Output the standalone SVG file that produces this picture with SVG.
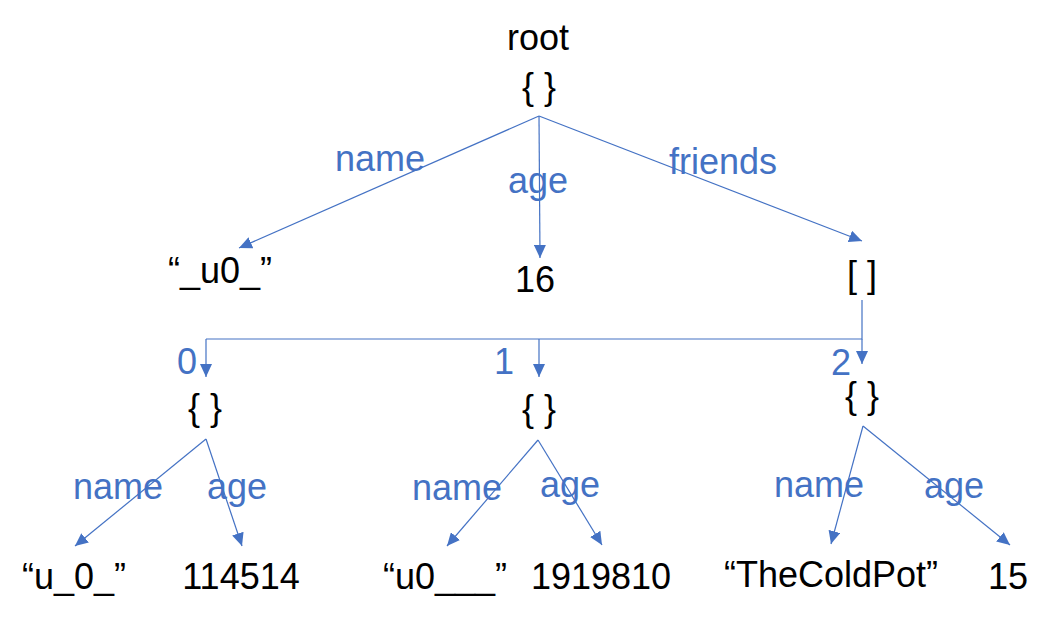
<svg xmlns="http://www.w3.org/2000/svg" width="1051" height="620" viewBox="0 0 1051 620">
<style>
text{font-family:"Liberation Sans",Arial,sans-serif;font-size:36px;text-anchor:middle}
.v{fill:#000}
.k{fill:#4472C4}
.e{stroke:#4472C4;stroke-width:1.2;fill:none;marker-end:url(#ah)}
.l{stroke:#4472C4;stroke-width:1.2;fill:none}
</style>
<defs>
<marker id="ah" markerUnits="userSpaceOnUse" markerWidth="14" markerHeight="12" refX="13" refY="6" orient="auto">
<path d="M0,0 L13,6 L0,12 Z" fill="#4472C4"/>
</marker>
</defs>
<rect width="1051" height="620" fill="#fff"/>
<g id="connectors">
<line class="e" x1="539" y1="116" x2="239" y2="248"/>
<line class="e" x1="539" y1="116" x2="540" y2="258"/>
<line class="e" x1="539" y1="116" x2="862" y2="241"/>
<polyline class="l" points="862,300 862,339 206,339"/>
<line class="e" x1="206" y1="339" x2="206" y2="377"/>
<line class="e" x1="539" y1="339" x2="539" y2="377"/>
<line class="e" x1="862" y1="339" x2="862" y2="364"/>
<line class="e" x1="206" y1="439" x2="75" y2="546"/>
<line class="e" x1="206" y1="439" x2="242" y2="546"/>
<line class="e" x1="538" y1="440" x2="447" y2="546"/>
<line class="e" x1="538" y1="440" x2="602" y2="545"/>
<line class="e" x1="863" y1="426" x2="831" y2="544"/>
<line class="e" x1="863" y1="426" x2="1010" y2="545"/>
</g>
<g id="labels">
<text class="k" x="380" y="171">name</text>
<text class="k" x="538" y="193">age</text>
<text class="k" x="723" y="174">friends</text>
<text class="k" x="187" y="374">0</text>
<text class="k" x="504" y="374">1</text>
<text class="k" x="841" y="375">2</text>
<text class="k" x="118" y="499">name</text>
<text class="k" x="237" y="499">age</text>
<text class="k" x="457" y="500">name</text>
<text class="k" x="570" y="497">age</text>
<text class="k" x="819" y="497">name</text>
<text class="k" x="954" y="498">age</text>
</g>
<g id="root"><text class="v" x="538" y="50">root</text><text class="v" x="539" y="99">{ }</text></g>
<g id="name0"><text class="v" x="220" y="283">“_u0_”</text></g>
<g id="age0"><text class="v" x="535" y="292">16</text></g>
<g id="friends"><text class="v" x="862" y="287">[ ]</text></g>
<g id="f0"><text class="v" x="205" y="420">{ }</text></g>
<g id="f1"><text class="v" x="539" y="421">{ }</text></g>
<g id="f2"><text class="v" x="862" y="408">{ }</text></g>
<g id="f0name"><text class="v" x="74" y="589">“u_0_”</text></g>
<g id="f0age"><text class="v" x="241" y="589">114514</text></g>
<g id="f1name"><text class="v" x="445" y="589">“u0___”</text></g>
<g id="f1age"><text class="v" x="601" y="589">1919810</text></g>
<g id="f2name"><text class="v" x="831" y="587">“TheColdPot”</text></g>
<g id="f2age"><text class="v" x="1008" y="589">15</text></g>
</svg>
